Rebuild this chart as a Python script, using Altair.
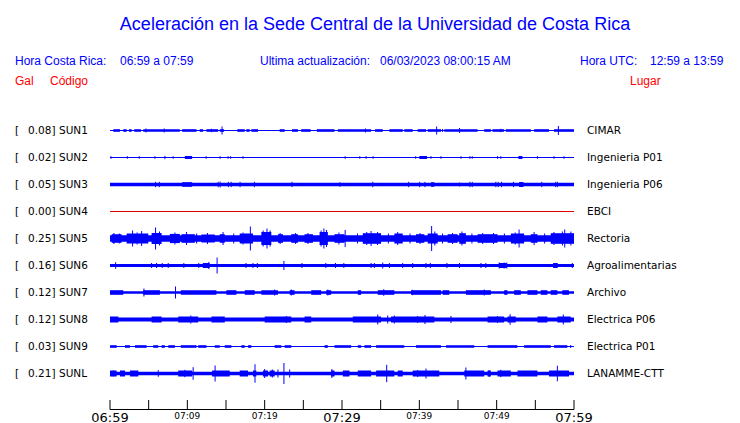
import altair as alt
import pandas as pd

# ---------------- data ----------------
CODES = ["SUN1", "SUN2", "SUN3", "SUN4", "SUN5", "SUN6", "SUN7", "SUN8", "SUN9", "SUNL"]
GAL = ["0.08", "0.02", "0.05", "0.00", "0.25", "0.16", "0.12", "0.12", "0.03", "0.21"]
PLACES = ["CIMAR", "Ingenieria P01", "Ingenieria P06", "EBCI", "Rectoria",
          "Agroalimentarias", "Archivo", "Electrica P06", "Electrica P01", "LANAMME-CTT"]
TRACE_COLORS = ["#0000ff", "#0000ff", "#0000ff", "#e00000", "#0000ff",
                "#0000ff", "#0000ff", "#0000ff", "#0000ff", "#0000ff"]

# background (noise) half-amplitude of each trace, arbitrary units
BASE_AMP = [0.5, 0.5, 1.7, 0.5, 3.3, 1.5, 1.3, 2.0, 0.5, 1.8]

# bursts: (start minute, end minute, half-amplitude)
SUN1_BURSTS = [(0.43, 1.29, 1.3), (1.72, 2.15, 1.3), (2.45, 2.8, 1.3), (3.14, 4.0, 1.3),
               (4.3, 9.03, 1.3), (9.33, 11.18, 1.3), (11.61, 12.04, 1.3), (12.47, 13.98, 1.3),
               (14.19, 14.75, 1.3), (16.47, 17.42, 1.3), (17.63, 18.06, 1.3), (18.28, 19.14, 1.3),
               (21.94, 22.58, 1.3), (23.53, 24.3, 1.3), (24.73, 25.94, 1.3), (26.75, 29.03, 1.3),
               (29.46, 33.76, 1.3), (34.28, 35.27, 1.3), (36.13, 37.85, 1.3), (38.06, 39.14, 1.3),
               (39.78, 40.86, 1.3), (41.08, 42.8, 1.3), (43.23, 47.53, 1.3), (48.39, 49.25, 1.3),
               (49.46, 50.97, 1.3), (51.18, 54.41, 1.3), (54.84, 56.77, 1.3), (57.42, 60.0, 1.3)]
SUN1_SPIKES = [(4.65, 2.0), (7.01, 2.0), (13.12, 1.7), (14.49, 4.0), (33.03, 2.0),
               (42.24, 4.0), (43.0, 1.5), (45.2, 2.5), (50.54, 1.7), (57.98, 4.5)]

SUN2_BURSTS = [(9.68, 10.62, 1.5), (40.0, 41.0, 1.5), (52.82, 53.33, 1.5)]
SUN2_SPIKES = [(0.13, 1.3), (2.24, 1.3), (3.78, 1.3), (5.81, 1.3), (7.1, 1.7), (8.17, 1.3),
               (12.43, 1.3), (14.24, 1.3), (15.27, 1.3), (15.61, 1.3), (17.2, 1.3), (30.41, 1.3),
               (32.3, 1.3), (33.12, 1.3), (34.02, 1.3), (39.53, 1.3), (41.51, 1.3), (42.8, 1.3),
               (45.38, 1.3), (46.54, 1.3), (46.84, 1.3), (50.11, 1.3), (50.54, 1.3), (55.27, 1.3),
               (57.42, 1.3), (58.71, 1.3)]

SUN3_BURSTS = [(9.33, 10.62, 2.3), (41.51, 41.94, 2.3), (52.9, 53.46, 2.5)]
SUN3_SPIKES = [(5.89, 2.7), (6.37, 2.7), (13.98, 2.7), (14.24, 3.0), (15.31, 2.7), (15.66, 2.7),
               (16.82, 2.7), (18.67, 2.7), (23.53, 2.7), (29.72, 2.3), (33.98, 2.7), (38.62, 2.7),
               (40.04, 2.7), (40.73, 2.7), (45.2, 2.0), (46.54, 2.7), (46.84, 2.7), (49.89, 2.7),
               (50.19, 2.7), (50.62, 2.7), (52.17, 2.7), (55.83, 2.7), (57.63, 2.7), (57.85, 2.7)]

SUN4_BURSTS = []
SUN4_SPIKES = []

SUN5_BURSTS = [(0.22, 1.51, 4.3), (2.15, 4.95, 5.0), (5.38, 6.67, 5.5), (7.74, 9.03, 4.6),
               (9.25, 10.97, 4.3), (11.83, 13.55, 4.0), (14.19, 14.84, 4.3), (16.77, 18.49, 5.0),
               (19.57, 20.86, 6.5), (21.72, 22.37, 4.3), (23.44, 24.3, 4.3), (25.16, 26.24, 4.3),
               (27.1, 28.17, 6.5), (29.03, 30.32, 4.3), (32.69, 35.05, 5.3), (36.77, 37.85, 5.0),
               (39.57, 40.65, 4.3), (41.08, 42.37, 5.0), (43.66, 44.95, 4.3), (45.16, 46.02, 5.3),
               (47.53, 50.11, 4.3), (51.83, 53.55, 5.0), (54.41, 55.27, 4.3), (56.99, 60.0, 5.3)]
SUN5_SPIKES = [(0.5, 5.5), (1.2, 5.0), (2.92, 8.0), (3.5, 6.0), (4.09, 7.5), (5.89, 11.0),
               (6.4, 7.0), (8.39, 6.0), (9.89, 6.5), (11.2, 5.0), (12.6, 5.5), (14.62, 6.5),
               (16.0, 5.0), (17.2, 6.0), (18.15, 12.0), (19.8, 8.0), (20.3, 10.0), (20.7, 8.0),
               (22.0, 5.5), (24.0, 5.5), (25.6, 5.5), (27.3, 8.0), (27.66, 10.0), (28.0, 8.5),
               (29.6, 6.0), (30.41, 8.5), (32.0, 5.0), (33.2, 6.5), (33.76, 7.5), (34.6, 6.5),
               (36.0, 5.0), (37.2, 6.5), (38.8, 5.0), (40.1, 5.5), (41.59, 12.5), (42.0, 7.0),
               (43.0, 5.0), (44.3, 5.5), (45.51, 7.0), (46.8, 5.0), (48.2, 5.5), (49.6, 5.5),
               (51.0, 5.0), (52.4, 6.0), (52.9, 9.0), (54.84, 6.5), (56.2, 5.0), (57.4, 6.5),
               (58.5, 7.0), (58.8, 9.0), (59.6, 7.0)]

SUN6_BURSTS = [(12.0, 12.9, 2.5), (50.3, 51.3, 2.5), (57.3, 57.9, 2.5)]
SUN6_SPIKES = [(0.73, 3.3), (5.38, 2.5), (6.02, 2.5), (6.75, 2.5), (7.53, 2.5), (9.55, 2.5),
               (11.48, 2.5), (12.77, 3.5), (13.85, 8.0), (17.59, 2.5), (18.49, 2.5), (19.05, 2.5),
               (22.49, 4.5), (24.82, 2.5), (27.91, 2.5), (29.16, 2.5), (30.24, 2.5), (33.76, 2.5),
               (34.19, 2.5), (35.27, 3.0), (36.13, 2.5), (37.85, 2.5), (39.14, 2.5), (40.86, 2.5),
               (41.42, 2.5), (43.57, 2.5), (45.2, 2.5), (47.96, 2.5), (48.6, 2.5), (50.32, 3.0),
               (50.97, 3.0), (51.31, 3.0), (57.63, 2.5), (59.78, 2.5)]

SUN7_BURSTS = [(0.0, 1.72, 2.3), (4.3, 6.45, 2.3), (9.16, 13.76, 2.3), (15.05, 16.34, 2.3),
               (17.42, 18.71, 2.3), (19.57, 21.72, 2.3), (23.23, 23.87, 2.3), (26.02, 27.31, 2.3),
               (27.96, 28.6, 2.3), (32.04, 32.47, 2.3), (34.62, 36.77, 2.3), (38.92, 42.8, 2.3),
               (43.01, 43.87, 2.3), (46.02, 49.25, 2.3), (50.97, 51.4, 2.3), (52.26, 53.12, 2.3),
               (53.98, 55.27, 2.3), (55.7, 56.56, 2.3), (56.99, 57.85, 2.3), (58.49, 59.35, 2.3)]
SUN7_SPIKES = [(4.39, 4.0), (8.47, 6.0), (21.29, 3.0), (23.44, 3.0), (28.17, 3.0), (35.4, 3.3),
               (39.14, 2.7), (48.39, 3.0)]

SUN8_BURSTS = [(0.0, 1.08, 3.0), (5.38, 6.67, 3.0), (8.82, 11.4, 3.0), (13.12, 14.84, 3.0),
               (20.0, 23.44, 3.0), (25.16, 26.02, 3.0), (31.4, 35.05, 3.0), (36.34, 41.94, 3.0),
               (48.82, 50.97, 3.0), (51.4, 52.47, 3.0), (55.27, 56.56, 3.0), (57.85, 59.57, 3.0)]
SUN8_SPIKES = [(10.45, 4.0), (22.8, 3.5), (34.62, 5.0), (35.91, 4.0), (36.77, 4.0), (39.78, 3.5),
               (40.73, 4.5), (44.09, 3.5), (50.11, 3.5), (51.74, 5.3), (58.62, 5.0)]

SUN9_BURSTS = [(0.0, 0.86, 1.3), (1.94, 2.58, 1.3), (3.23, 4.73, 1.3), (5.59, 6.24, 1.3),
               (6.67, 7.1, 1.3), (7.53, 8.39, 1.3), (9.16, 11.18, 1.3), (11.4, 12.47, 1.3),
               (13.55, 14.19, 1.3), (14.84, 15.7, 1.3), (16.99, 17.42, 1.3), (17.85, 18.28, 1.3),
               (21.29, 22.15, 1.3), (22.58, 23.44, 1.3), (27.74, 28.17, 1.3), (29.03, 31.18, 1.3),
               (32.04, 32.47, 1.3), (32.9, 33.76, 1.3), (34.41, 38.06, 1.3), (39.57, 42.8, 1.3),
               (43.44, 47.1, 1.3), (48.82, 52.68, 1.3), (53.55, 57.0, 1.3), (57.42, 59.14, 1.3)]
SUN9_SPIKES = [(59.57, 1.5)]

SUNL_BURSTS = [(0.0, 0.86, 3.0), (1.29, 1.94, 3.0), (2.58, 3.66, 3.0), (8.82, 10.62, 3.0),
               (13.2, 15.48, 3.0), (16.77, 17.85, 3.0), (18.49, 18.92, 3.0), (19.78, 20.43, 3.0),
               (20.65, 21.29, 3.0), (28.6, 29.03, 3.0), (30.11, 30.97, 3.0), (32.04, 33.76, 3.0),
               (34.41, 36.77, 3.0), (37.2, 37.85, 3.0), (39.14, 42.58, 3.0), (45.81, 48.39, 3.0),
               (48.82, 49.25, 3.0), (50.11, 51.83, 3.0), (52.69, 55.27, 3.0), (56.77, 59.35, 3.0)]
SUNL_SPIKES = [(0.43, 3.0), (6.24, 3.3), (9.68, 3.7), (10.75, 6.3), (13.59, 8.0), (18.75, 9.2),
               (20.0, 4.5), (20.99, 4.0), (21.72, 4.0), (22.49, 10.5), (23.23, 4.0), (28.69, 4.5),
               (35.78, 8.7), (39.78, 3.5), (40.86, 5.0), (46.02, 6.0), (49.03, 3.3), (50.54, 3.7),
               (57.85, 7.8)]

BURSTS = [SUN1_BURSTS, SUN2_BURSTS, SUN3_BURSTS, SUN4_BURSTS, SUN5_BURSTS,
          SUN6_BURSTS, SUN7_BURSTS, SUN8_BURSTS, SUN9_BURSTS, SUNL_BURSTS]
SPIKES = [SUN1_SPIKES, SUN2_SPIKES, SUN3_SPIKES, SUN4_SPIKES, SUN5_SPIKES,
          SUN6_SPIKES, SUN7_SPIKES, SUN8_SPIKES, SUN9_SPIKES, SUNL_SPIKES]

WINDOW_MINUTES = 60
TICK_MINUTES = list(range(0, 61, 5))
MAJOR_MINUTES = [0, 30, 60]
MINOR_MINUTES = [10, 20, 40, 50]
START_TIME = "2023-06-03 06:59"

TITLE = "Aceleración en la Sede Central de la Universidad de Costa Rica"
ROW_GAP = 27  # amplitude units between trace baselines

# ---------------- tables ----------------
rect_rows, spike_rows, label_rows = [], [], []
for i, code in enumerate(CODES):
    c = -i * ROW_GAP
    col = TRACE_COLORS[i]
    rect_rows.append(dict(t0=0, t1=WINDOW_MINUTES, lo=c - BASE_AMP[i], hi=c + BASE_AMP[i], color=col))
    for (a, b, amp) in BURSTS[i]:
        rect_rows.append(dict(t0=a, t1=b, lo=c - amp, hi=c + amp, color=col))
    for (t, amp) in SPIKES[i]:
        spike_rows.append(dict(t=t, lo=c - amp, hi=c + amp, color=col))
    label_rows.append(dict(yc=c, gal=GAL[i] + "]", code=code, place=PLACES[i]))

rects = pd.DataFrame(rect_rows)
spikes = pd.DataFrame(spike_rows)
labels = pd.DataFrame(label_rows)

t0 = pd.Timestamp(START_TIME)
def fmt(m):
    return (t0 + pd.Timedelta(minutes=m)).strftime("%H:%M")

ticks = pd.DataFrame({"m": TICK_MINUTES})
majors = pd.DataFrame({"m": MAJOR_MINUTES, "lab": [fmt(m) for m in MAJOR_MINUTES]})
minors = pd.DataFrame({"m": MINOR_MINUTES, "lab": [fmt(m) for m in MINOR_MINUTES]})
axis_line = pd.DataFrame({"a": [0], "b": [WINDOW_MINUTES]})

# ---------------- scales ----------------
xs = alt.Scale(domain=[0, WINDOW_MINUTES], range=[102, 566], nice=False, zero=False)
ys = alt.Scale(domain=[-9 * ROW_GAP, 0], range=[365.5, 122.5], nice=False, zero=False)

BLUE = "#0000ff"
RED = "#ff0000"
SANS = "Liberation Sans"
DV = "DejaVu Sans"

band = alt.Chart(rects).mark_rect().encode(
    x=alt.X("t0:Q", scale=xs, axis=None), x2="t1:Q",
    y=alt.Y("lo:Q", scale=ys, axis=None), y2="hi:Q",
    color=alt.Color("color:N", scale=None),
)
spk = alt.Chart(spikes).mark_rule(strokeWidth=1).encode(
    x=alt.X("t:Q", scale=xs, axis=None),
    y=alt.Y("lo:Q", scale=ys, axis=None), y2="hi:Q",
    color=alt.Color("color:N", scale=None),
)

def row_text(field, xpos, align="left"):
    return alt.Chart(labels).mark_text(font=DV, fontSize=10.5, align=align, baseline="middle",
                                       color="#000000").encode(
        x=alt.value(xpos), y=alt.Y("yc:Q", scale=ys, axis=None), text=f"{field}:N")

bracket = alt.Chart(labels).mark_text(font=DV, fontSize=10.5, align="left", baseline="middle",
                                      color="#000000", text="[").encode(
    x=alt.value(7), y=alt.Y("yc:Q", scale=ys, axis=None))
gal_t = row_text("gal", 20)
code_t = row_text("code", 51)
place_t = row_text("place", 579)

def fixed_text(txt, x, y, color, size, font=SANS, align="left"):
    return alt.Chart(pd.DataFrame({"t": [txt]})).mark_text(
        font=font, fontSize=size, align=align, baseline="alphabetic", color=color
    ).encode(x=alt.value(x), y=alt.value(y), text="t:N")

title = fixed_text(TITLE, 367, 22, BLUE, 18, align="center")
h1 = fixed_text("Hora Costa Rica:", 7, 56.5, BLUE, 12)
h2 = fixed_text(f"{fmt(0)} a {fmt(60)}", 112, 56.5, BLUE, 12)
h3 = fixed_text("Ultima actualización:", 252, 56.5, BLUE, 12)
h4 = fixed_text("06/03/2023 08:00:15 AM", 372, 56.5, BLUE, 12)
h5 = fixed_text("Hora UTC:", 572, 56.5, BLUE, 12)
h6 = fixed_text("12:59 a 13:59", 642, 56.5, BLUE, 12)
g1 = fixed_text("Gal", 7, 77, RED, 12)
g2 = fixed_text("Código", 42, 77, RED, 12)
g3 = fixed_text("Lugar", 622, 77, RED, 12)

aline = alt.Chart(axis_line).mark_rule(color="#000000", strokeWidth=1).encode(
    x=alt.X("a:Q", scale=xs, axis=None), x2="b:Q", y=alt.value(401.5))
tks = alt.Chart(ticks).mark_rule(color="#000000", strokeWidth=1).encode(
    x=alt.X("m:Q", scale=xs, axis=None), y=alt.value(392), y2=alt.value(401.5))
maj = alt.Chart(majors).mark_text(font=DV, fontSize=13, align="center", baseline="alphabetic",
                                  color="#000000").encode(
    x=alt.X("m:Q", scale=xs, axis=None), y=alt.value(413.5), text="lab:N")
mnr = alt.Chart(minors).mark_text(font=DV, fontSize=9, align="center", baseline="alphabetic",
                                  color="#000000").encode(
    x=alt.X("m:Q", scale=xs, axis=None), y=alt.value(411), text="lab:N")

chart = alt.layer(
    band, spk, bracket, gal_t, code_t, place_t,
    title, h1, h2, h3, h4, h5, h6, g1, g2, g3,
    aline, tks, maj, mnr,
).properties(
    width=724, height=420,
    autosize=alt.AutoSizeParams(type="none"),
    padding=0,
    background="#ffffff",
).configure_view(stroke=None)

chart.save("out.html", embed_options={"renderer": "svg", "actions": False})
